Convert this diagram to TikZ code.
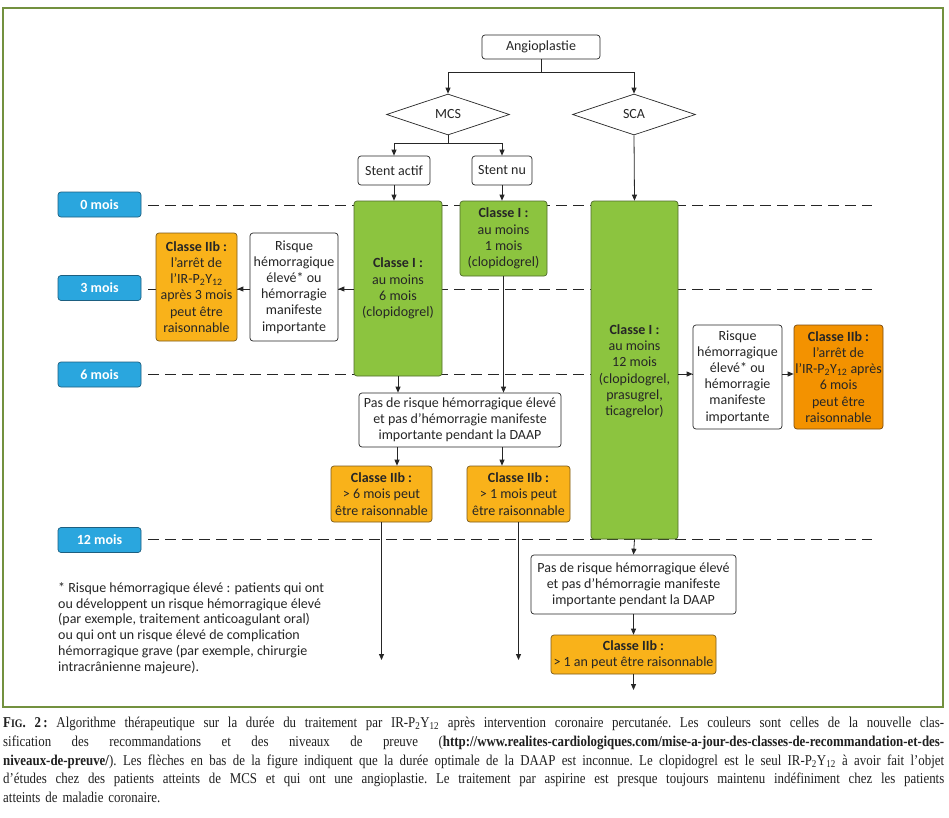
\documentclass[tikz,border=0pt]{standalone}
\usepackage{fontspec}
\setmainfont{Carlito}
\newfontfamily\capfont[FakeStretch=0.86]{Liberation Serif}
\usetikzlibrary{shapes.geometric,arrows.meta}
\definecolor{gfill}{HTML}{8CC43F}
\definecolor{gline}{HTML}{4F6B2A}
\definecolor{ofill}{HTML}{F9B21A}
\definecolor{oline}{HTML}{7A5A1A}
\definecolor{rfill}{HTML}{F39200}
\definecolor{rline}{HTML}{7A4A10}
\definecolor{bfill}{HTML}{2AA6DE}
\definecolor{bline}{HTML}{1D5F80}
\definecolor{framec}{HTML}{73913F}
\definecolor{linec}{HTML}{262626}
\definecolor{txtc}{HTML}{262626}
\newcommand\dfs{\fontsize{14}{16.2}\selectfont}
\newcommand\capline[1]{\noindent\hbox to 941pt{\spaceskip=3.2pt plus 12pt minus 1.2pt\relax #1}\par}
\newcommand\pyy{IR-P\textsubscript{2}Y\textsubscript{12}}
\begin{document}
\begin{tikzpicture}[x=1pt,y=-1pt,
  every node/.style={font=\dfs, text=txtc},
  box/.style={draw=linec, line width=0.7pt, rounded corners=3pt, align=center, inner sep=0pt, fill=white},
  gbox/.style={box, fill=gfill, draw=gline},
  obox/.style={box, fill=ofill, draw=oline},
  rbox/.style={box, fill=rfill, draw=rline},
  mlabel/.style={draw=bline, fill=bfill, rounded corners=3pt, line width=0.7pt, minimum width=83pt, minimum height=25pt, inner sep=0pt, text=white, font=\dfs\bfseries},
  dec/.style={diamond, draw=linec, line width=0.7pt, fill=white, minimum width=123pt, minimum height=41pt, inner sep=0pt, aspect=3},
  arr/.style={draw=linec, line width=0.8pt, -{Triangle[length=6pt,width=5pt]}},
  ln/.style={draw=linec, line width=0.8pt},
  dashline/.style={draw=linec, line width=0.8pt, dash pattern=on 11pt off 6pt}
]
\fill[white] (0,0) rectangle (949,817);
\useasboundingbox (0,0) rectangle (949,817);
\draw[framec, line width=2pt] (3,8) rectangle (943,707);

% time lines
\foreach \yy in {205,289,374,539} \draw[dashline] (148,\yy) -- (872,\yy);

% month labels
\node[mlabel] (m0) at (99.5,204.5) {0 mois};
\node[mlabel] (m3) at (99.5,288) {3 mois};
\node[mlabel] (m6) at (99.5,374.5) {6 mois};
\node[mlabel] (m12) at (99.5,540) {12 mois};

% top
\node[box, minimum width=118pt, minimum height=24pt] (ang) at (541,47) {Angioplastie};
\node[dec] (mcs) at (448,114.5) {MCS};
\node[dec] (sca) at (634,114.5) {SCA};
\node[box, minimum width=72pt, minimum height=29pt] (stact) at (394,170.5) {Stent actif};
\node[box, minimum width=60pt, minimum height=29pt] (stnu) at (502,170.5) {Stent nu};

% green
\node[gbox, minimum width=88pt, minimum height=175pt] (g6) at (398,288.5) {\textbf{Classe I :}\\au moins\\6 mois\\(clopidogrel)};
\node[gbox, minimum width=87pt, minimum height=75pt] (g1) at (503.5,238.5) {\textbf{Classe I :}\\au moins\\1 mois\\(clopidogrel)};
\node[gbox, minimum width=87pt, minimum height=338pt, text depth=-8pt] (g12) at (634.5,370) {\textbf{Classe I :}\\au moins\\12 mois\\(clopidogrel,\\prasugrel,\\ticagrelor)};

% left side
\node[box, minimum width=88pt, minimum height=108pt] (riskL) at (294,287) {Risque\\hémorragique\\élevé* ou\\hémorragie\\manifeste\\importante};
\node[obox, minimum width=81pt, minimum height=108pt] (orL) at (196.5,287) {\textbf{Classe IIb :}\\l’arrêt de\\l’\pyy\\après 3 mois\\peut être\\raisonnable};

% right side
\node[box, minimum width=89pt, minimum height=104pt] (riskR) at (737.5,377) {Risque\\hémorragique\\élevé* ou\\hémorragie\\manifeste\\importante};
\node[rbox, minimum width=89pt, minimum height=104pt] (orR) at (838.5,377) {\textbf{Classe IIb :}\\l’arrêt de\\l’\pyy{} après\\6 mois\\peut être\\raisonnable};

% MCS bottom
\node[box, minimum width=202pt, minimum height=54pt] (pasM) at (460,420) {Pas de risque hémorragique élevé\\et pas d’hémorragie manifeste\\importante pendant la DAAP};
\node[obox, minimum width=101pt, minimum height=56pt] (o6) at (381.5,494) {\textbf{Classe IIb :}\\> 6 mois peut\\être raisonnable};
\node[obox, minimum width=103pt, minimum height=56pt] (o1) at (518.5,494) {\textbf{Classe IIb :}\\> 1 mois peut\\être raisonnable};

% SCA bottom
\node[box, minimum width=205pt, minimum height=59pt] (pasS) at (633.5,584.5) {Pas de risque hémorragique élevé\\et pas d’hémorragie manifeste\\importante pendant la DAAP};
\node[obox, minimum width=165pt, minimum height=39pt] (o12) at (633.5,654.5) {\textbf{Classe IIb :}\\> 1 an peut être raisonnable};

% free ends
\coordinate (e6) at (381.5,660);
\coordinate (e1) at (518.5,660);
\coordinate (e12) at (633.5,690);
\coordinate (j1) at (541,72);
\coordinate (j2) at (448,143);

% connectors
\draw[ln] (ang.south) -- (j1);
\draw[arr] (j1) -| (mcs.north);
\draw[arr] (j1) -| (sca.north);
\draw[ln] (mcs.south) -- (j2);
\draw[arr] (j2) -| (stact.north);
\draw[arr] (j2) -| (stnu.north);
\draw[arr] (stact.south) -- (stact.south |- g6.north);
\draw[arr] (stnu.south) -- (stnu.south |- g1.north);
\draw[arr] (sca.south) -- (g12.north);
\draw[arr] (g6.west |- 0,289) -- (riskL.east |- 0,289);
\draw[arr] (riskL.west |- 0,289) -- (orL.east |- 0,289);
\draw[arr] (g12.east |- 0,374) -- (riskR.west |- 0,374);
\draw[arr] (riskR.east |- 0,374) -- (orR.west |- 0,374);
\draw[arr] (g6.south) -- (g6.south |- pasM.north);
\draw[arr] (g1.south) -- (g1.south |- pasM.north);
\draw[arr] (pasM.south -| 397,0) -- (o6.north -| 397,0);
\draw[arr] (pasM.south -| 502,0) -- (o1.north -| 502,0);
\draw[arr] (o6.south) -- (e6);
\draw[arr] (o1.south) -- (e1);
\draw[arr] (g12.south) -- (pasS.north);
\draw[arr] (pasS.south) -- (o12.north);
\draw[arr] (o12.south) -- (e12);

% footnote
\node[anchor=north west, inner sep=0pt, align=left, font=\fontsize{14}{15.9}\selectfont] (foot) at (58,582) {* Risque hémorragique élevé : patients qui ont\\ou développent un risque hémorragique élevé\\(par exemple, traitement anticoagulant oral)\\ou qui ont un risque élevé de complication\\hémorragique grave (par exemple, chirurgie\\intracrânienne majeure).};

% caption
\node[anchor=north west, inner sep=0pt, text width=941pt, text=black!88, font=\capfont\frenchspacing\fontsize{15}{18.7}\selectfont] (cap) at (3,717) {%
\capline{{\bfseries F{\fontsize{11.5}{12}\selectfont IG}. 2\,:} Algorithme thérapeutique sur la durée du traitement par \pyy{} après intervention coronaire percutanée. Les couleurs sont celles de la nouvelle clas-}
\capline{sification des recommandations et des niveaux de preuve (\textbf{http://www.realites-cardiologiques.com/mise-a-jour-des-classes-de-recommandation-et-des-}}
\capline{\textbf{niveaux-de-preuve/}). Les flèches en bas de la figure indiquent que la durée optimale de la DAAP est inconnue. Le clopidogrel est le seul \pyy{} à avoir fait l’objet}
\capline{d’études chez des patients atteints de MCS et qui ont une angioplastie. Le traitement par aspirine est presque toujours maintenu indéfiniment chez les patients}
\noindent atteints de maladie coronaire.\par};
\end{tikzpicture}
\end{document}
